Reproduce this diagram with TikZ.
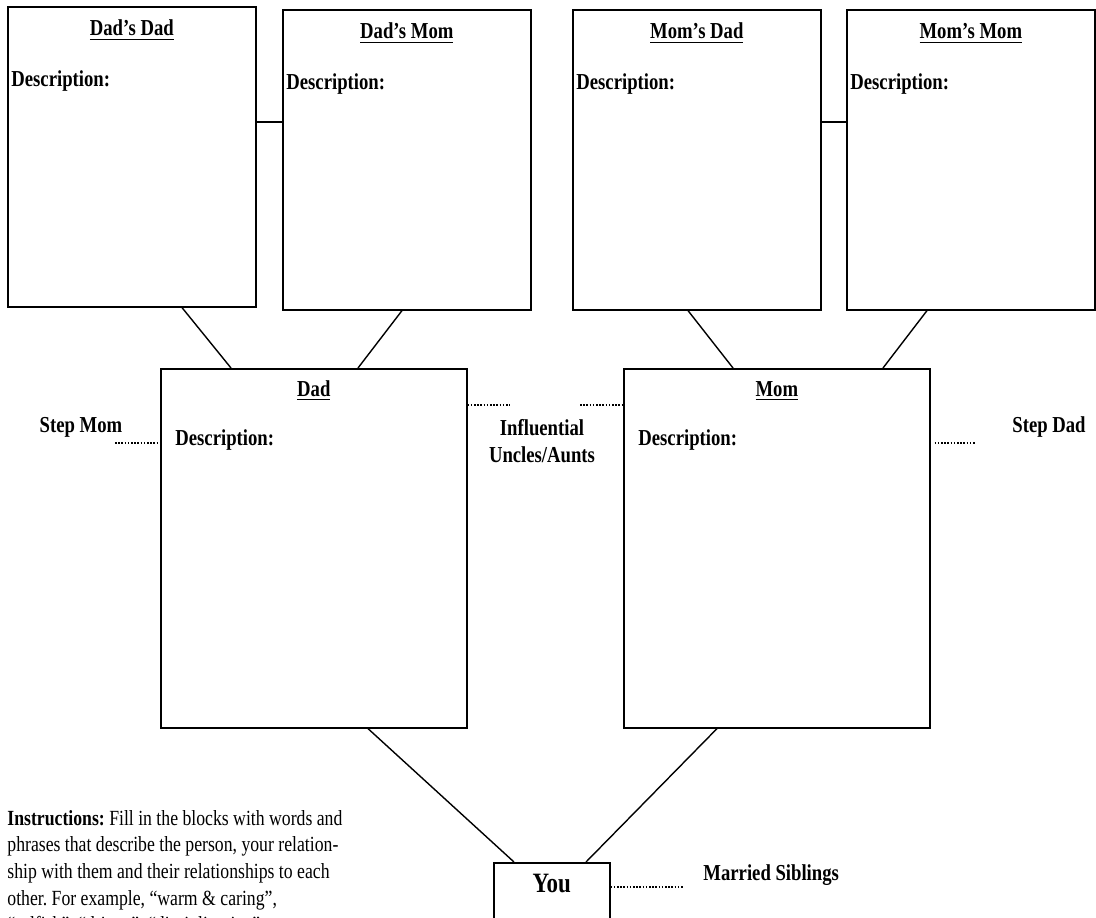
\documentclass[tikz,border=0pt]{standalone}
\usepackage{fontspec}
\setmainfont{Liberation Serif}[FakeStretch=0.82]

\begin{document}
\frenchspacing
\fontsize{11.4pt}{13.5pt}\selectfont
\begin{tikzpicture}[x=0.5pt, y=0.5pt,
    box/.style={draw, line width=0.8pt, inner sep=0pt, anchor=north west},
    link/.style={line width=0.7pt},
    dots/.style={line width=1pt, dash pattern=on 0.8pt off 0.8pt},
    title/.style={anchor=base, inner sep=0pt, font=\bfseries},
    desc/.style={anchor=base west, inner sep=0pt, font=\bfseries}]
  \clip (0,0) rectangle (1096,917);
  % grandparents
  \foreach \n/\x/\y/\t in {dd/7/911/{Dad’s Dad}, dm/282/908/{Dad’s Mom}, md/572/908/{Mom’s Dad}, mm/846/908/{Mom’s Mom}} {
    \node[box, minimum width=124pt, minimum height=150pt] (\n) at (\x,\y) {};
    \node[title] at ([yshift=-15pt]\n.north) {\underline{\t}};
    \node[desc] at ([xshift=2pt, yshift=-40.5pt]\n.north west) {Description:};
  }
  % parents
  \foreach \n/\x/\t in {dad/160/Dad, mom/623/Mom} {
    \node[box, minimum width=153pt, minimum height=179.5pt] (\n) at (\x,549) {};
    \node[title] at ([yshift=-14pt]\n.north) {\underline{\t}};
    \node[desc] at ([xshift=7.5pt, yshift=-38.5pt]\n.north west) {Description:};
  }
  % you
  \node[box, minimum width=58pt, minimum height=40pt] (you) at (493,55) {};
  \node[title, font=\fontsize{14pt}{16pt}\selectfont\bfseries] (youlbl) at ([yshift=-15pt]you.north) {You};

  % couples
  \draw[link] (dd.east |- 0,795) -- (dm.west |- 0,795);
  \draw[link] (md.east |- 0,795) -- (mm.west |- 0,795);
  % parent lines
  \draw[link] (dd.south -| 182,0) -- (dad.north -| 231,0);
  \draw[link] (dm.south -| 402,0) -- (dad.north -| 358,0);
  \draw[link] (md.south -| 688,0) -- (mom.north -| 733,0);
  \draw[link] (mm.south -| 927,0) -- (mom.north -| 883,0);
  \draw[link] (dad.south -| 368,0) -- (you.north -| 514,0);
  \draw[link] (mom.south -| 717,0) -- (you.north -| 586,0);

  % side relations
  \node[title] (stepmom) at (81,485) {Step Mom};
  \node[title] (stepdad) at (1049,485) {Step Dad};
  \node[anchor=north, inner sep=0pt, align=center, font=\bfseries] (uncles) at (542,498) {Influential\\Uncles/Aunts};
  \node[anchor=base west, inner sep=0pt, font=\bfseries] (siblings) at (703,37) {Married Siblings};
  \coordinate (sm) at (115,474);
  \coordinate (sd) at (975,474);
  \coordinate (ua) at (510,512);
  \coordinate (ub) at (580,512);
  \coordinate (ms) at (683,30);
  \draw[dots] (sm) -- (dad.west |- sm);
  \draw[dots] ([xshift=2pt]mom.east |- sd) -- (sd);
  \draw[dots] (dad.east |- ua) -- (ua);
  \draw[dots] (ub) -- (mom.west |- ub);
  \draw[dots] (you.east |- ms) -- (ms);

  % instructions
  \node[anchor=north west, inner sep=0pt, align=left, font=\fontsize{10.8pt}{13.3pt}\selectfont] (instr) at (7,107)
    {\textbf{Instructions:} Fill in the blocks with words and\\
     phrases that describe the person, your relation-\\
     ship with them and their relationships to each\\
     other. For example, “warm \& caring”,\\
     “selfish”, “driven”, “disciplinarian”};
\end{tikzpicture}
\end{document}
